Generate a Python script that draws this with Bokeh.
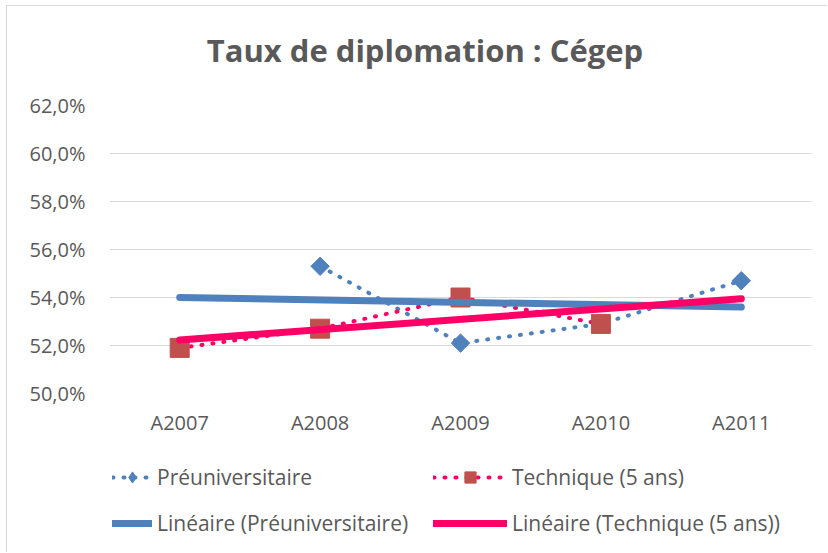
import numpy as np
from bokeh.plotting import figure
from bokeh.layouts import column
from bokeh.models import FactorRange, Range1d, FixedTicker, Legend, LegendItem, Label
from bokeh.embed import file_html
from bokeh.resources import INLINE

# ---- data ----
categories = ["A2007", "A2008", "A2009", "A2010", "A2011"]
preuni = [np.nan, 55.3, 52.1, 52.9, 54.7]
technique = [51.9, 52.7, 54.0, 52.9, np.nan]
y_ticks = [50, 52, 54, 56, 58, 60, 62]
y_tick_labels = ["50,0%", "52,0%", "54,0%", "56,0%", "58,0%", "60,0%", "62,0%"]
title_text = "Taux de diplomation : Cégep"
series_names = ["Préuniversitaire", "Technique (5 ans)"]
trend_names = ["Linéaire (Préuniversitaire)", "Linéaire (Technique (5 ans))"]

FONT = "Open Sans"
GREY = "#595959"
BLUE = "#4F81BD"
PINK = "#FF0066"
RED = "#C0504D"
W = 820
LEFT, RIGHT = 102, 16

dot_blue = dict(line_color=BLUE, line_width=4, line_dash="1 10", line_cap="round")
dot_pink = dict(line_color=PINK, line_width=4, line_dash="1 10", line_cap="round")
mk_blue = dict(marker="square", angle=np.pi / 4, size=13, fill_color=BLUE, line_color=BLUE)
mk_red = dict(marker="square", size=19, fill_color=RED, line_color=RED)
tr_blue = dict(line_color=BLUE, line_width=7, line_cap="round")
tr_pink = dict(line_color=PINK, line_width=7, line_cap="round")


def trend(vals):
    idx = np.arange(len(vals))
    arr = np.array(vals, dtype=float)
    m = ~np.isnan(arr)
    a, b = np.polyfit(idx[m], arr[m], 1)
    return [b, b + a * (len(vals) - 1)]


def blank_fig(h):
    f = figure(width=W, height=h, x_range=Range1d(0, 1), y_range=Range1d(0, 1),
               output_backend="svg", toolbar_location=None,
               x_axis_location=None, y_axis_location=None,
               min_border_left=LEFT, min_border_right=RIGHT,
               min_border_top=0, min_border_bottom=0)
    f.grid.visible = False
    f.outline_line_color = None
    f.background_fill_color = "white"
    f.border_fill_color = "white"
    return f


# ---- title ----
tf = blank_fig(70)
tf.add_layout(Label(x=315.5, y=27, x_units="screen", y_units="screen", text=title_text,
                    text_font=FONT, text_font_style="bold", text_font_size="31px",
                    text_color=GREY, text_align="center", text_baseline="middle"))

# ---- main chart ----
p = figure(
    width=W, height=374,
    x_range=FactorRange(*categories, range_padding=0),
    y_range=Range1d(50, 62),
    output_backend="svg", toolbar_location=None,
    min_border_left=LEFT, min_border_right=RIGHT,
    min_border_top=29, min_border_bottom=57,
    background_fill_color="white", border_fill_color="white",
)
p.outline_line_color = None
p.xgrid.grid_line_color = None
p.ygrid.grid_line_color = "#d9d9d9"
p.ygrid.grid_line_width = 1
p.yaxis.ticker = FixedTicker(ticks=y_ticks)
p.yaxis.major_label_overrides = {t: l for t, l in zip(y_ticks, y_tick_labels)}
for ax in (p.xaxis[0], p.yaxis[0]):
    ax.axis_line_color = None
    ax.major_tick_line_color = None
    ax.minor_tick_line_color = None
    ax.major_label_text_font = FONT
    ax.major_label_text_font_size = "20px"
    ax.major_label_text_color = GREY
p.yaxis.major_label_standoff = 18
p.xaxis.major_label_standoff = 9

p.line(categories, preuni, **dot_blue)
p.scatter(categories, preuni, **mk_blue)
p.line(categories, technique, **dot_pink)
p.scatter(categories, technique, **mk_red)
ends = [categories[0], categories[-1]]
p.line(ends, trend(preuni), **tr_blue)
p.line(ends, trend(technique), **tr_pink)

# ---- legend (sample glyphs: points sit outside the visible range) ----
lf = blank_fig(102)
e = dict(x=[-5, -4], y=[-5, -4])
r_l1 = lf.line(**e, **dot_blue)
r_s1 = lf.scatter(**e, marker="diamond", size=14, fill_color=BLUE, line_color=BLUE)
r_l2 = lf.line(**e, **dot_pink)
r_s2 = lf.scatter(**e, **mk_red)
r_t1 = lf.line(**e, **tr_blue)
r_t2 = lf.line(**e, **tr_pink)

common = dict(margin=0, padding=0, spacing=18, label_standoff=5,
              glyph_height=28, label_height=20,
              label_text_font=FONT, label_text_font_size="21px", label_text_color=GREY,
              border_line_color=None, background_fill_alpha=0)
leg1 = Legend(items=[LegendItem(label=series_names[0], renderers=[r_l1, r_s1]),
                     LegendItem(label=trend_names[0], renderers=[r_t1])],
              location=(3, 15), glyph_width=40, **common)
leg2 = Legend(items=[LegendItem(label=series_names[1], renderers=[r_l2, r_s2]),
                     LegendItem(label=trend_names[1], renderers=[r_t2])],
              location=(324, 15), glyph_width=74, **common)
lf.add_layout(leg1, "center")
lf.add_layout(leg2, "center")

layout = column(tf, p, lf, spacing=0)
layout.styles = {"margin-left": "6px", "margin-top": "5px",
                 "border-left": "1px solid #d9d9d9", "border-top": "1px solid #d9d9d9"}

open("out.html", "w").write(file_html(layout, INLINE))
